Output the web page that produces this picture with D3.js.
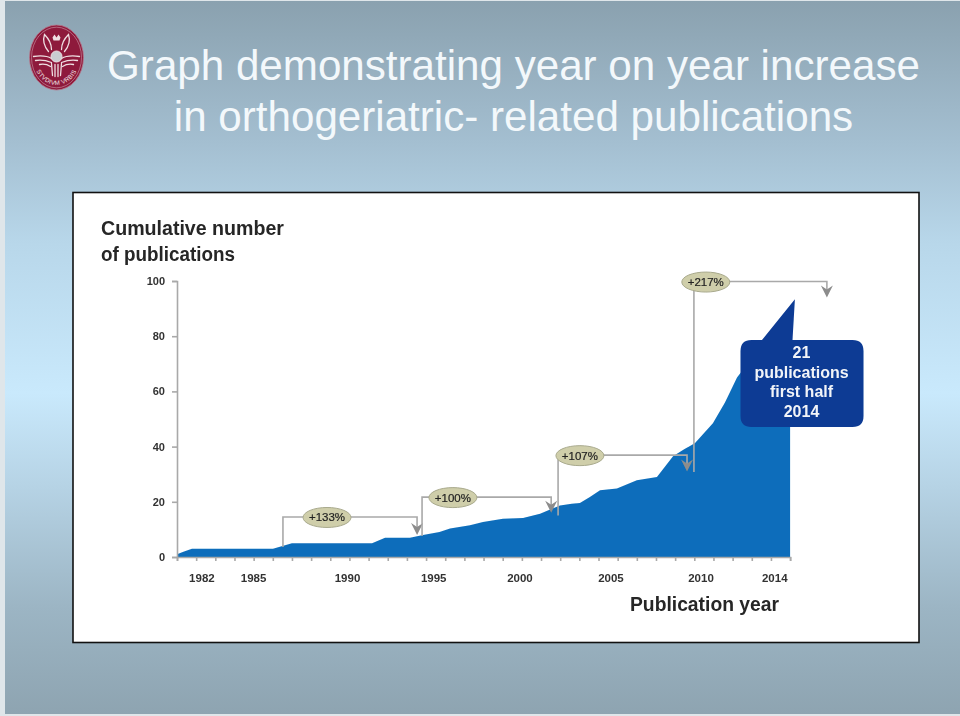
<!DOCTYPE html>
<html><head><meta charset="utf-8">
<style>html,body{margin:0;padding:0;background:#dfe6ea;overflow:hidden}svg{display:block}text{font-family:"Liberation Sans",Arial,sans-serif}</style>
<script src="https://cdn.jsdelivr.net/npm/d3@7"></script></head>
<body><script>
// --- data (positions along the axis are counted in tick intervals from the y axis) ---
const titleLines = ["Graph demonstrating year on year increase", "in orthogeriatric- related publications"];
const yTicks = [0, 20, 40, 60, 80, 100];
const tickCount = 32;
const yearLabels = ["1982", "1985", "1990", "1995", "2000", "2005", "2010", "2014"];
const yearLabelAt = [1.3, 4, 8.9, 13.4, 17.9, 22.65, 27.35, 31.2];
const curveAt = [0, 0.37, 0.78, 5.01, 6, 10.18, 10.86, 12.16, 12.84, 13.7, 14.25, 15.29, 15.97, 17.01, 18.06, 18.95, 19.57, 19.99, 20.6, 21.03, 21.55, 22.08, 22.96, 24, 25.05, 25.89, 26.47, 27.04, 27.97, 28.6, 29.23, 32];
const cumulative = [1, 2, 3, 3, 5, 5, 7, 7, 8, 9.1, 10.3, 11.5, 12.7, 13.9, 14.1, 15.7, 17.5, 18.7, 19.3, 19.6, 21.7, 24.2, 24.8, 27.8, 29, 36.5, 39, 41.3, 48.5, 56, 65, 90];
const calloutTip = [32.25, 93.4];
const calloutLines = ["21", "publications", "first half", "2014"];
const axisTitle = ["Cumulative number", "of publications"];
const xTitle = "Publication year";
const bracketLabels = ["+133%", "+100%", "+107%", "+217%"];
const bracketStart = [5.53, 12.79, 19.89, 26.98];
const bracketEnd = [12.53, 19.53, 26.62, 33.92];
const bracketBase = [3.6, 7.6, 15, 30.8];
const bracketLevel = [14.5, 21.7, 36.9, 99.8];
const bracketTip = [8, 16, 31, 94];
const pillAt = [7.83, 14.4, 21.03, 27.6];

const W = 960, H = 716;
const svg = d3.select("body").append("svg").attr("width", W).attr("height", H);
const defs = svg.append("defs");
const grad = defs.append("linearGradient").attr("id", "bg").attr("x1", 0).attr("y1", 0).attr("x2", 0).attr("y2", 1);
[[0, "#8aa1af"], [0.2, "#a4bfd1"], [0.34, "#b8d7ea"], [0.55, "#c9e9fc"], [0.68, "#b6d3e5"], [0.85, "#9cb5c4"], [1, "#8ea4b1"]]
  .forEach(([o, c]) => grad.append("stop").attr("offset", o).attr("stop-color", c));
defs.append("filter").attr("id", "soft").append("feGaussianBlur").attr("stdDeviation", 0.6);

// slide background
svg.append("rect").attr("x", 5).attr("y", 1).attr("width", W - 5).attr("height", 713).attr("fill", "url(#bg)");

// title
svg.append("g").selectAll("text").data(titleLines).join("text")
  .attr("x", 513.5).attr("y", (d, i) => 80 + i * 50.5).attr("text-anchor", "middle")
  .attr("font-size", 42.15).attr("fill", "#f3f8fb").text(d => d);

// crest
const crest = svg.append("g").attr("transform", "translate(56.5,57.5)");
crest.append("ellipse").attr("rx", 27).attr("ry", 32.5).attr("fill", "#8e1a3c").attr("stroke", "#b5798c").attr("stroke-width", 0.8);
crest.append("ellipse").attr("rx", 25).attr("ry", 30.3).attr("fill", "none").attr("stroke", "#d9b3bf").attr("stroke-width", 0.5);
const cg = crest.append("g").attr("fill", "none").attr("stroke", "#efdfe2").attr("stroke-linecap", "round");
[
  "M-8,-6 C-13,-12 -14,-17 -12,-23 C-8,-19 -5,-13 -5,-8",
  "M8,-6 C13,-12 14,-17 12,-23 C8,-19 5,-13 5,-8",
  "M-23,-1 C-16,-2 -10,-2 -5,1 M-21,3 C-15,2 -10,3 -5,5 M-17,7 C-12,6 -9,7 -6,9",
  "M23,-1 C16,-2 10,-2 5,1 M21,3 C15,2 10,3 5,5 M17,7 C12,6 9,7 6,9",
  "M-5,6 L-4,18 M-1.5,7 L-1.5,19 M1.5,7 L1.5,19 M5,6 L4,18"
].forEach(d => cg.append("path").attr("d", d).attr("stroke-width", 1.3));
crest.append("circle").attr("cy", -1).attr("r", 5.5).attr("fill", "#c9ced2").attr("stroke", "#efdfe2").attr("stroke-width", 1);
crest.append("path").attr("d", "M-4,-20 L-2,-23 L0,-20 L2,-23 L4,-20 L3,-17 L-3,-17 Z").attr("fill", "#efdfe2");
defs.append("path").attr("id", "crestArc").attr("d", "M-23,6 C-19,22 -8,27.5 0,27.5 C8,27.5 19,22 23,6");
crest.append("text").attr("font-size", 6.2).attr("font-family", "Liberation Serif").attr("fill", "#f1e3e5").attr("letter-spacing", 0.3)
  .append("textPath").attr("href", "#crestArc").attr("startOffset", "50%").attr("text-anchor", "middle").text("STVDIVM VRBIS");

// white figure panel
svg.append("rect").attr("x", 73).attr("y", 192.5).attr("width", 846).attr("height", 450).attr("fill", "#fff").attr("stroke", "#111").attr("stroke-width", 1.6);

// scales
const x = d3.scaleLinear().domain([0, tickCount]).range([177, 790.1]);
const y = d3.scaleLinear().domain([0, 100]).range([557, 281]);
const grey = "#a9a9a9";
const fig = svg.append("g").attr("filter", "url(#soft)");

// area
const pts = curveAt.map((c, i) => [c, cumulative[i]]);
fig.append("path").datum(pts).attr("fill", "#0b6dbb")
  .attr("d", d3.area().x(d => x(d[0])).y0(y(0)).y1(d => y(d[1])));

// axes
const yAxis = fig.append("g").attr("transform", `translate(${x(0)},0)`).call(d3.axisLeft(y).tickValues(yTicks).tickSize(5).tickPadding(7));
const xAxis = fig.append("g").attr("transform", `translate(0,${y(0)})`).call(d3.axisBottom(x).tickValues(d3.range(0, tickCount + 1)).tickSize(4).tickFormat(""));
[yAxis, xAxis].forEach(a => { a.selectAll("path,line").attr("stroke", grey).attr("stroke-width", 1.6); });
yAxis.selectAll("text").attr("font-size", 11).attr("font-weight", "bold").attr("fill", "#333").style("font-family", "Liberation Sans");
fig.append("g").selectAll("text").data(yearLabels).join("text")
  .attr("x", (d, i) => x(yearLabelAt[i])).attr("y", y(0) + 25).attr("text-anchor", "middle")
  .attr("font-size", 11.5).attr("font-weight", "bold").attr("fill", "#333").text(d => d);

// brackets
bracketLabels.forEach((lab, i) => {
  const xs = x(bracketStart[i]), xe = x(bracketEnd[i]), yb = y(bracketBase[i]), yl = y(bracketLevel[i]), yt = y(bracketTip[i]);
  fig.append("path").attr("fill", "none").attr("stroke", grey).attr("stroke-width", 1.6)
    .attr("d", d3.line()([[xs, yb], [xs, yl], [xe, yl], [xe, yt - 6]]));
  fig.append("path").attr("fill", "#8c8c8c")
    .attr("d", d3.line()([[xe - 6, yt - 12], [xe, yt - 8], [xe + 6, yt - 12], [xe, yt]]) + "Z");
  const px = x(pillAt[i]);
  fig.append("ellipse").attr("cx", px).attr("cy", yl + 0.5).attr("rx", 24).attr("ry", 10)
    .attr("fill", "#cfceaa").attr("stroke", "#a8a98c").attr("stroke-width", 1);
  fig.append("text").attr("x", px).attr("y", yl + 4.5).attr("text-anchor", "middle")
    .attr("font-size", 11.5).attr("fill", "#222").attr("stroke", "#222").attr("stroke-width", 0.2).text(lab);
});

// callout
const bx = 740.5, by = 340, bw = 123, bh = 87, r = 11;
const tipX = x(calloutTip[0]), tipY = y(calloutTip[1]);
const callPath = d3.path();
callPath.moveTo(bx + r, by);
callPath.lineTo(762, by); callPath.lineTo(tipX, tipY); callPath.lineTo(792.5, by);
callPath.lineTo(bx + bw - r, by); callPath.quadraticCurveTo(bx + bw, by, bx + bw, by + r);
callPath.lineTo(bx + bw, by + bh - r); callPath.quadraticCurveTo(bx + bw, by + bh, bx + bw - r, by + bh);
callPath.lineTo(bx + r, by + bh); callPath.quadraticCurveTo(bx, by + bh, bx, by + bh - r);
callPath.lineTo(bx, by + r); callPath.quadraticCurveTo(bx, by, bx + r, by); callPath.closePath();
fig.append("path").attr("d", callPath.toString()).attr("fill", "#0a3a94");
fig.append("g").selectAll("text").data(calloutLines).join("text")
  .attr("x", 801.5).attr("y", (d, i) => 358 + i * 19.7).attr("text-anchor", "middle")
  .attr("font-size", 16).attr("font-weight", "bold").attr("fill", "#f2f4f8").text(d => d);

// axis titles
fig.append("g").selectAll("text").data(axisTitle).join("text")
  .attr("x", 101).attr("y", (d, i) => 234.5 + i * 26).attr("font-size", 20).attr("font-weight", "bold")
  .attr("fill", "#262626").attr("textLength", (d, i) => i ? 134 : 183).attr("lengthAdjust", "spacingAndGlyphs").text(d => d);
fig.append("text").attr("x", 630).attr("y", 611).attr("font-size", 20).attr("font-weight", "bold")
  .attr("fill", "#262626").attr("textLength", 149).attr("lengthAdjust", "spacingAndGlyphs").text(xTitle);
</script></body></html>
